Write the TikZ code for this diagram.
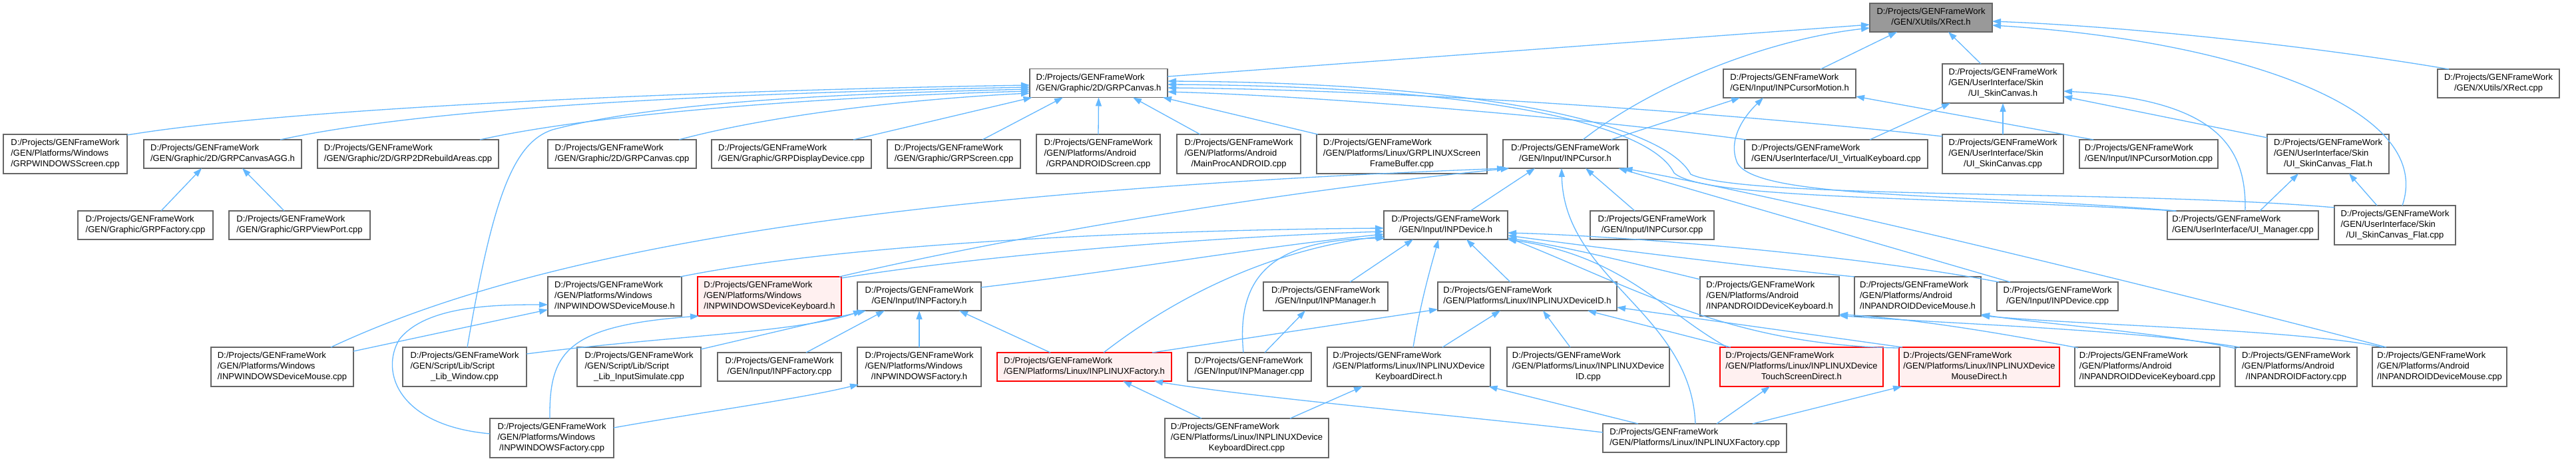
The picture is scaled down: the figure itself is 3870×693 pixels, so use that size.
\documentclass[tikz,border=0pt]{standalone}
\usepackage{fontspec}
\setmainfont{Liberation Sans}
\usetikzlibrary{arrows.meta,calc}
\definecolor{edgec}{HTML}{63B8FF}
\definecolor{bord}{HTML}{666666}
\definecolor{rootfill}{HTML}{999999}
\definecolor{redfill}{HTML}{FFF0F0}
\newcommand\twol[1]{\begin{tabular}{@{}l@{}}D:/Projects/GENFrameWork\\\multicolumn{1}{@{}c@{}}{#1}\end{tabular}}
\newcommand\threel[2]{\begin{tabular}{@{}l@{}}D:/Projects/GENFrameWork\\#1\\\multicolumn{1}{@{}c@{}}{#2}\end{tabular}}
\tikzset{
  nbox/.style={draw=bord, fill=white, line width=1.3pt, inner sep=0pt, outer sep=0pt, font=\fontsize{13}{16}\selectfont},
  rootbox/.style={nbox, fill=rootfill},
  redbox/.style={nbox, draw=red, fill=redfill},
  dep/.style={draw=edgec, line width=1.3pt, -{Triangle[length=13pt,width=9pt]}}
}
\begin{document}
\begin{tikzpicture}[x=1pt,y=-1pt]
\fill[white] (0,0) rectangle (3870,693);
\useasboundingbox (0,0) rectangle (3870,693);
% row 0/1
\node[rootbox, minimum width=184pt, minimum height=43pt] (xrecth) at (2901,26.5) {\twol{/GEN/XUtils/XRect.h}};
\node[nbox, minimum width=207pt, minimum height=43pt] (grpcanvash) at (1650.5,125) {\twol{/GEN/Graphic/2D/GRPCanvas.h}};
\node[nbox, minimum width=199pt, minimum height=43pt] (inpcursormotionh) at (2688.5,125.5) {\twol{/GEN/Input/INPCursorMotion.h}};
\node[nbox, minimum width=182pt, minimum height=59pt] (uiskincanvash) at (3009,125.5) {\threel{/GEN/UserInterface/Skin}{/UI\_SkinCanvas.h}};
\node[nbox, minimum width=183pt, minimum height=43pt] (xrectcpp) at (3753.5,125.5) {\twol{/GEN/XUtils/XRect.cpp}};
% row 2
\node[nbox, minimum width=186pt, minimum height=59pt] (grpwinscreen) at (98,231.5) {\threel{/GEN/Platforms/Windows}{/GRPWINDOWSScreen.cpp}};
\node[nbox, minimum width=237pt, minimum height=43pt] (grpcanvasagg) at (334.5,231.5) {\twol{/GEN/Graphic/2D/GRPCanvasAGG.h}};
\node[nbox, minimum width=272pt, minimum height=43pt] (grp2drebuild) at (613,231.5) {\twol{/GEN/Graphic/2D/GRP2DRebuildAreas.cpp}};
\node[nbox, minimum width=223pt, minimum height=43pt] (grpcanvascpp) at (934.5,231.5) {\twol{/GEN/Graphic/2D/GRPCanvas.cpp}};
\node[nbox, minimum width=240pt, minimum height=43pt] (grpdisplay) at (1189,231.5) {\twol{/GEN/Graphic/GRPDisplayDevice.cpp}};
\node[nbox, minimum width=200pt, minimum height=43pt] (grpscreen) at (1433,231.5) {\twol{/GEN/Graphic/GRPScreen.cpp}};
\node[nbox, minimum width=186pt, minimum height=59pt] (grpandroidscreen) at (1650,231.5) {\threel{/GEN/Platforms/Android}{/GRPANDROIDScreen.cpp}};
\node[nbox, minimum width=186pt, minimum height=59pt] (mainproc) at (1861,231.5) {\threel{/GEN/Platforms/Android}{/MainProcANDROID.cpp}};
\node[nbox, minimum width=256pt, minimum height=59pt] (grplinuxfb) at (2106,231.5) {\threel{/GEN/Platforms/Linux/GRPLINUXScreen}{FrameBuffer.cpp}};
\node[nbox, minimum width=187pt, minimum height=43pt] (inpcursorh) at (2351.5,231.5) {\twol{/GEN/Input/INPCursor.h}};
\node[nbox, minimum width=275pt, minimum height=43pt] (uivk) at (2758.5,231.5) {\twol{/GEN/UserInterface/UI\_VirtualKeyboard.cpp}};
\node[nbox, minimum width=182pt, minimum height=59pt] (uiskincanvascpp) at (3009,231.5) {\threel{/GEN/UserInterface/Skin}{/UI\_SkinCanvas.cpp}};
\node[nbox, minimum width=208pt, minimum height=43pt] (inpcursormotioncpp) at (3228,231.5) {\twol{/GEN/Input/INPCursorMotion.cpp}};
\node[nbox, minimum width=183pt, minimum height=59pt] (uiskinflath) at (3497.5,231.5) {\threel{/GEN/UserInterface/Skin}{/UI\_SkinCanvas\_Flat.h}};
% row 3
\node[nbox, minimum width=203pt, minimum height=43pt] (grpfactory) at (218.5,338.5) {\twol{/GEN/Graphic/GRPFactory.cpp}};
\node[nbox, minimum width=212pt, minimum height=43pt] (grpviewport) at (450,338.5) {\twol{/GEN/Graphic/GRPViewPort.cpp}};
\node[nbox, minimum width=186pt, minimum height=43pt] (inpdeviceh) at (2172,338.5) {\twol{/GEN/Input/INPDevice.h}};
\node[nbox, minimum width=186pt, minimum height=43pt] (inpcursorcpp) at (2482,338.5) {\twol{/GEN/Input/INPCursor.cpp}};
\node[nbox, minimum width=227pt, minimum height=43pt] (uimanager) at (3369.5,338.5) {\twol{/GEN/UserInterface/UI\_Manager.cpp}};
\node[nbox, minimum width=182pt, minimum height=59pt] (uiskinflatcpp) at (3598,338.5) {\threel{/GEN/UserInterface/Skin}{/UI\_SkinCanvas\_Flat.cpp}};
% row 4
\node[nbox, minimum width=201pt, minimum height=59pt] (inpwinmouseh) at (923.5,445.5) {\threel{/GEN/Platforms/Windows}{/INPWINDOWSDeviceMouse.h}};
\node[redbox, minimum width=216pt, minimum height=59pt] (inpwinkbh) at (1156,445.5) {\threel{/GEN/Platforms/Windows}{/INPWINDOWSDeviceKeyboard.h}};
\node[nbox, minimum width=186pt, minimum height=43pt] (inpfactoryh) at (1381,445.5) {\twol{/GEN/Input/INPFactory.h}};
\node[nbox, minimum width=187pt, minimum height=43pt] (inpmanagerh) at (1991.5,445.5) {\twol{/GEN/Input/INPManager.h}};
\node[nbox, minimum width=269pt, minimum height=43pt] (inplinuxidh) at (2294.5,445.5) {\twol{/GEN/Platforms/Linux/INPLINUXDeviceID.h}};
\node[nbox, minimum width=209pt, minimum height=59pt] (inpandkbh) at (2658.5,445.5) {\threel{/GEN/Platforms/Android}{/INPANDROIDDeviceKeyboard.h}};
\node[nbox, minimum width=190pt, minimum height=59pt] (inpandmouseh) at (2881,445.5) {\threel{/GEN/Platforms/Android}{/INPANDROIDDeviceMouse.h}};
\node[nbox, minimum width=182pt, minimum height=43pt] (inpdevicecpp) at (3091,445.5) {\twol{/GEN/Input/INPDevice.cpp}};
% row 5
\node[nbox, minimum width=214pt, minimum height=59pt] (inpwinmousecpp) at (424,551.5) {\threel{/GEN/Platforms/Windows}{/INPWINDOWSDeviceMouse.cpp}};
\node[nbox, minimum width=186pt, minimum height=59pt] (scriptwindow) at (698,551.5) {\threel{/GEN/Script/Lib/Script}{\_Lib\_Window.cpp}};
\node[nbox, minimum width=186pt, minimum height=59pt] (scriptinput) at (960,551.5) {\threel{/GEN/Script/Lib/Script}{\_Lib\_InputSimulate.cpp}};
\node[nbox, minimum width=186pt, minimum height=43pt] (inpfactorycpp) at (1171,551.5) {\twol{/GEN/Input/INPFactory.cpp}};
\node[nbox, minimum width=186pt, minimum height=59pt] (inpwinfactoryh) at (1381,551.5) {\threel{/GEN/Platforms/Windows}{/INPWINDOWSFactory.h}};
\node[redbox, minimum width=262pt, minimum height=43pt] (inplinuxfactoryh) at (1629,551.5) {\twol{/GEN/Platforms/Linux/INPLINUXFactory.h}};
\node[nbox, minimum width=186pt, minimum height=43pt] (inpmanagercpp) at (1877,551.5) {\twol{/GEN/Input/INPManager.cpp}};
\node[nbox, minimum width=245pt, minimum height=59pt] (inplinuxkbh) at (2116.5,551.5) {\threel{/GEN/Platforms/Linux/INPLINUXDevice}{KeyboardDirect.h}};
\node[nbox, minimum width=244pt, minimum height=59pt] (inplinuxidcpp) at (2386,551.5) {\threel{/GEN/Platforms/Linux/INPLINUXDevice}{ID.cpp}};
\node[redbox, minimum width=245pt, minimum height=59pt] (inplinuxtouchh) at (2706.5,551.5) {\threel{/GEN/Platforms/Linux/INPLINUXDevice}{TouchScreenDirect.h}};
\node[redbox, minimum width=241pt, minimum height=59pt] (inplinuxmouseh) at (2973.5,551.5) {\threel{/GEN/Platforms/Linux/INPLINUXDevice}{MouseDirect.h}};
\node[nbox, minimum width=218pt, minimum height=59pt] (inpandkbcpp) at (3226,551.5) {\threel{/GEN/Platforms/Android}{/INPANDROIDDeviceKeyboard.cpp}};
\node[nbox, minimum width=183pt, minimum height=59pt] (inpandfactorycpp) at (3449.5,551.5) {\threel{/GEN/Platforms/Android}{/INPANDROIDFactory.cpp}};
\node[nbox, minimum width=202pt, minimum height=59pt] (inpandmousecpp) at (3665,551.5) {\threel{/GEN/Platforms/Android}{/INPANDROIDDeviceMouse.cpp}};
% row 6
\node[nbox, minimum width=186pt, minimum height=59pt] (inpwinfactorycpp) at (829,658.5) {\threel{/GEN/Platforms/Windows}{/INPWINDOWSFactory.cpp}};
\node[nbox, minimum width=246pt, minimum height=59pt] (inplinuxkbcpp) at (1873,658.5) {\threel{/GEN/Platforms/Linux/INPLINUXDevice}{KeyboardDirect.cpp}};
\node[nbox, minimum width=276pt, minimum height=43pt] (inplinuxfactorycpp) at (2546,658.5) {\twol{/GEN/Platforms/Linux/INPLINUXFactory.cpp}};

% ---- edges into XRect.h
\draw[dep] ($(grpcanvash)+(103.5,-10)$) -- ($(xrecth)+(-92,10.5)$);
\draw[dep] ($(inpcursorh)+(26.5,-21.5)$) .. controls (2480,130) and (2650,60) .. ($(xrecth)+(-92,15.5)$);
\draw[dep] ($(inpcursormotionh)+(46.5,-21.5)$) -- ($(xrecth)+(-51,21.5)$);
\draw[dep] ($(uiskincanvash)+(-33,-29.5)$) -- ($(xrecth)+(26,21.5)$);
\draw[dep] ($(xrectcpp)+(-74.5,-21.5)$) .. controls (3480,70) and (3200,40) .. ($(xrecth)+(92,5.5)$);
\draw[dep] ($(uiskinflatcpp)+(11,-29.5)$) .. controls (3660,160) and (3350,60) .. ($(xrecth)+(92,11.5)$);
% ---- edges into GRPCanvas.h
\draw[dep] ($(grpwinscreen)+(93,-28.5)$) .. controls (450,160) and (1100,135) .. ($(grpcanvash)+(-103.5,3)$);
\draw[dep] ($(grpcanvasagg)+(86.5,-21.5)$) .. controls (650,160) and (1100,140) .. ($(grpcanvash)+(-103.5,6)$);
\draw[dep] ($(scriptwindow)+(4,-29.5)$) .. controls (740,300) and (770,215) .. (830,195) .. controls (1000,150) and (1300,140) .. ($(grpcanvash)+(-103.5,9)$);
\draw[dep] ($(grp2drebuild)+(108,-21.5)$) .. controls (900,170) and (1250,145) .. ($(grpcanvash)+(-103.5,12)$);
\draw[dep] ($(grpcanvascpp)+(85.5,-21.5)$) .. controls (1150,175) and (1350,150) .. ($(grpcanvash)+(-103.5,15)$);
\draw[dep] ($(grpdisplay)+(93,-21.5)$) -- ($(grpcanvash)+(-100,21.5)$);
\draw[dep] ($(grpscreen)+(43,-21.5)$) -- ($(grpcanvash)+(-53.5,21.5)$);
\draw[dep] (grpandroidscreen.north) -- (grpcanvash.south);
\draw[dep] ($(mainproc)+(-58,-29.5)$) -- ($(grpcanvash)+(51.5,21.5)$);
\draw[dep] ($(grplinuxfb)+(-126,-29.5)$) -- ($(grpcanvash)+(96.5,21.5)$);
\draw[dep] ($(uivk)+(-135,-21.5)$) .. controls (2400,180) and (2000,145) .. ($(grpcanvash)+(103.5,13)$);
\draw[dep] ($(uiskincanvascpp)+(-91,-26.5)$) .. controls (2600,170) and (2100,135) .. ($(grpcanvash)+(103.5,7)$);
\draw[dep] ($(uimanager)+(-102,-21.5)$) .. controls (2900,295) and (2560,300) .. (2515,260) .. controls (2480,190) and (2250,130) .. ($(grpcanvash)+(103.5,2)$);
\draw[dep] ($(uiskinflatcpp)+(-91,-26.5)$) .. controls (3200,285) and (2620,300) .. (2540,262) .. controls (2505,195) and (2270,125) .. ($(grpcanvash)+(103.5,-3)$);
% ---- INPCursorMotion.h
\draw[dep] ($(uimanager)+(-100,-21.5)$) .. controls (2950,290) and (2640,300) .. (2610,245) .. controls (2595,210) and (2620,175) .. ($(inpcursormotionh)+(-39.5,21.5)$);
\draw[dep] ($(inpcursormotioncpp)+(-83,-21.5)$) -- ($(inpcursormotionh)+(99.5,19.5)$);
\draw[dep] ($(inpcursorh)+(68.5,-21.5)$) -- ($(inpcursormotionh)+(-74.5,21.5)$);
% ---- UI skin
\draw[dep] ($(uivk)+(50.5,-21.5)$) -- ($(uiskincanvash)+(-79,29.5)$);
\draw[dep] (uiskincanvascpp.north) -- (uiskincanvash.south);
\draw[dep] ($(uiskinflath)+(-91.5,-24.5)$) -- ($(uiskincanvash)+(91,19.5)$);
\draw[dep] ($(uimanager)+(3.5,-21.5)$) .. controls (3375,220) and (3330,150) .. ($(uiskincanvash)+(91,11.5)$);
\draw[dep] ($(uimanager)+(25.5,-21.5)$) -- ($(uiskinflath)+(-44.5,29.5)$);
\draw[dep] ($(uiskinflatcpp)+(-27,-29.5)$) -- ($(uiskinflath)+(31.5,29.5)$);
% ---- GRPCanvasAGG.h
\draw[dep] ($(grpfactory)+(23.5,-21.5)$) -- ($(grpcanvasagg)+(-31.5,21.5)$);
\draw[dep] ($(grpviewport)+(-23,-21.5)$) -- ($(grpcanvasagg)+(29.5,21.5)$);
% ---- INPCursor.h
\draw[dep] ($(inpdeviceh)+(37,-21.5)$) -- ($(inpcursorh)+(-45.5,21.5)$);
\draw[dep] ($(inpcursorcpp)+(-26,-21.5)$) -- ($(inpcursorh)+(30.5,21.5)$);
\draw[dep] ($(inplinuxfactorycpp)+(1,-21.5)$) .. controls (2540,470) and (2350,420) .. ($(inpcursorh)+(-5.5,21.5)$);
\draw[dep] ($(inpwinmousecpp)+(73,-29.5)$) .. controls (800,380) and (1300,290) .. ($(inpcursorh)+(-89.5,21.5)$);
\draw[dep] ($(inpwinkbh)+(105,-29.5)$) .. controls (1500,360) and (1900,290) .. ($(inpcursorh)+(-84,21.5)$);
\draw[dep] ($(inpdevicecpp)+(-71,-21.5)$) -- ($(inpcursorh)+(80,21.5)$);
\draw[dep] ($(inpandmousecpp)+(-80,-29.5)$) .. controls (3350,460) and (2750,310) .. ($(inpcursorh)+(88,21.5)$);
% ---- INPDevice.h
\draw[dep] ($(inpwinmouseh)+(98.5,-29.5)$) .. controls (1300,360) and (1800,345) .. ($(inpdeviceh)+(-93,4.5)$);
\draw[dep] ($(inpwinkbh)+(108,-27.5)$) .. controls (1500,380) and (1850,355) .. ($(inpdeviceh)+(-93,9.5)$);
\draw[dep] ($(inpfactoryh)+(93,-13.5)$) .. controls (1700,405) and (1900,370) .. ($(inpdeviceh)+(-93,13.5)$);
\draw[dep] ($(inplinuxfactoryh)+(29,-21.5)$) .. controls (1800,420) and (1950,370) .. ($(inpdeviceh)+(-93,16.5)$);
\draw[dep] ($(inpmanagercpp)+(-9,-21.5)$) .. controls (1855,400) and (1930,360) .. ($(inpdeviceh)+(-91,19.5)$);
\draw[dep] ($(inpmanagercpp)+(23,-21.5)$) -- ($(inpmanagerh)+(-30.5,21.5)$);
\draw[dep] ($(inpmanagerh)+(36.5,-21.5)$) -- ($(inpdeviceh)+(-49,21.5)$);
\draw[dep] ($(inplinuxkbh)+(6.5,-29.5)$) .. controls (2135,450) and (2150,400) .. ($(inpdeviceh)+(-11,21.5)$);
\draw[dep] ($(inplinuxidh)+(-25.5,-21.5)$) -- ($(inpdeviceh)+(31,21.5)$);
\draw[dep] ($(inpandkbh)+(-104.5,-25.5)$) .. controls (2450,395) and (2350,370) .. ($(inpdeviceh)+(93,19.5)$);
\draw[dep] ($(inpandmouseh)+(-95,-29.5)$) .. controls (2620,400) and (2400,372) .. ($(inpdeviceh)+(93,15.5)$);
\draw[dep] ($(inpdevicecpp)+(-88,-21.5)$) .. controls (2800,385) and (2450,355) .. ($(inpdeviceh)+(93,11.5)$);
\draw[dep] ($(inplinuxtouchh)+(-111.5,-29.5)$) .. controls (2500,470) and (2440,385) .. ($(inpdeviceh)+(93,21.5)$);
\draw[dep] ($(inplinuxmouseh)+(-120.5,-28.5)$) .. controls (2600,520) and (2450,430) .. ($(inpdeviceh)+(93,18.5)$);
% ---- INPFactory.h
\draw[dep] ($(inplinuxfactoryh)+(-51,-21.5)$) -- ($(inpfactoryh)+(60,21.5)$);
\draw[dep] (inpwinfactoryh.north) -- (inpfactoryh.south);
\draw[dep] ($(inpfactorycpp)+(40,-21.5)$) -- ($(inpfactoryh)+(-52,21.5)$);
\draw[dep] ($(scriptinput)+(93,-26.5)$) -- ($(inpfactoryh)+(-80,21.5)$);
\draw[dep] ($(scriptwindow)+(93,-19.5)$) .. controls (1000,505) and (1200,500) .. ($(inpfactoryh)+(-86,21.5)$);
% ---- INPWINDOWS
\draw[dep] ($(inpwinmousecpp)+(107,-23.5)$) -- ($(inpwinmouseh)+(-100.5,20)$);
\draw[dep] ($(inpwinfactorycpp)+(-93,-6.5)$) .. controls (600,640) and (570,560) .. (600,510) .. controls (640,460) and (740,458) .. ($(inpwinmouseh)+(-100.5,12.5)$);
\draw[dep] ($(inpwinfactorycpp)+(-3,-29.5)$) .. controls (825,530) and (850,490) .. ($(inpwinkbh)+(-106,29.5)$);
\draw[dep] ($(inpwinfactorycpp)+(93,-15.5)$) .. controls (1050,620) and (1200,600) .. ($(inpwinfactoryh)+(-91,26.5)$);
% ---- INPLINUX
\draw[dep] ($(inplinuxfactoryh)+(102,-21.5)$) -- ($(inplinuxidh)+(-134.5,19.5)$);
\draw[dep] ($(inplinuxkbh)+(50.5,-29.5)$) -- ($(inplinuxidh)+(-40.5,21.5)$);
\draw[dep] ($(inplinuxidcpp)+(-27,-29.5)$) -- ($(inplinuxidh)+(23.5,21.5)$);
\draw[dep] ($(inplinuxtouchh)+(-106.5,-29.5)$) -- ($(inplinuxidh)+(90.5,21.5)$);
\draw[dep] ($(inplinuxmouseh)+(-115.5,-29.5)$) -- ($(inplinuxidh)+(134.5,16.5)$);
\draw[dep] ($(inplinuxkbcpp)+(65,-29.5)$) -- ($(inplinuxkbh)+(-69.5,29.5)$);
\draw[dep] ($(inplinuxkbcpp)+(-68,-29.5)$) -- ($(inplinuxfactoryh)+(58,21.5)$);
\draw[dep] ($(inplinuxfactorycpp)+(-138,-8.5)$) .. controls (2200,625) and (1900,600) .. ($(inplinuxfactoryh)+(105,21.5)$);
\draw[dep] ($(inplinuxfactorycpp)+(-85,-21.5)$) -- ($(inplinuxkbh)+(120,29.5)$);
\draw[dep] ($(inplinuxfactorycpp)+(33,-21.5)$) -- ($(inplinuxtouchh)+(-47.5,29.5)$);
\draw[dep] ($(inplinuxfactorycpp)+(87,-21.5)$) -- ($(inplinuxmouseh)+(-116.5,29.5)$);
% ---- Android
\draw[dep] ($(inpandkbcpp)+(-104,-28.5)$) .. controls (2950,490) and (2850,478) .. ($(inpandkbh)+(104.5,27)$);
\draw[dep] ($(inpandfactorycpp)+(-84.5,-29.5)$) .. controls (3200,495) and (2950,488) .. ($(inpandkbh)+(104.5,29)$);
\draw[dep] ($(inpandfactorycpp)+(-89.5,-27.5)$) .. controls (3250,500) and (3050,485) .. ($(inpandmouseh)+(95,27)$);
\draw[dep] ($(inpandmousecpp)+(-85,-29.5)$) .. controls (3450,495) and (3150,490) .. ($(inpandmouseh)+(95,29)$);
\end{tikzpicture}
\end{document}
